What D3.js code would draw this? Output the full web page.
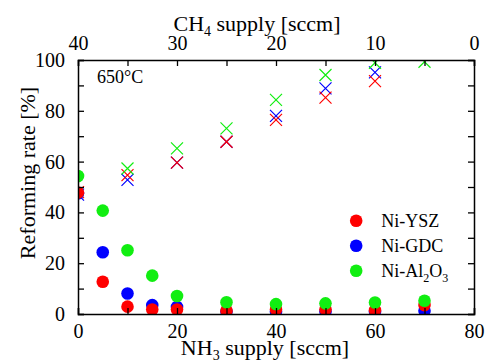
<!DOCTYPE html>
<html>
  <head>
    <meta charset="utf-8" />
    <title>Reforming rate vs NH3 / CH4 supply</title>
    <script src="https://d3js.org/d3.v7.min.js" charset="utf-8"></script>
    <style>
      html,
      body {
        margin: 0;
        padding: 0;
        background-color: white;
      }
      svg text {
        font-family: "Liberation Serif", "DejaVu Serif", serif !important;
        fill: black;
      }
    </style>
  </head>
  <body>
    <svg id="chart"></svg>
    <script>
      // SVG size
      const width = 486;
      const height = 360;

      // Margins
      const lmargin = 78;
      const rmargin = 12;
      const tmargin = 60;
      const bmargin = 46;

      const graphWidth = width - lmargin - rmargin;
      const graphHeight = height - tmargin - bmargin;

      // Data: NH3 decomposition (circles)
      const nh3Supply = [0, 5, 10, 15, 20, 30, 40, 50, 60, 70];
      const ysz = [47.8, 12.7, 2.9, 1.8, 1.8, 1.3, 1.8, 1.8, 1.5, 3.5];
      const gdc = [47.5, 24.3, 8.1, 3.5, 2.8, 1.0, 1.0, 1.0, 1.0, 1.3];
      const al2o3 = [54.3, 40.7, 25.1, 15.1, 7.1, 4.6, 3.9, 4.2, 4.5, 5.2];

      // Data: CH4 reforming (crosses), plotted at NH3 positions
      const crossX = [0, 10, 20, 30, 40, 50, 60, 70];
      const yszRef = [48.0, 54.7, 59.6, 67.8, 76.4, 85.2, 91.7, null];
      const gdcRef = [47.0, 52.8, 59.6, 67.8, 78.0, 88.8, 95.1, null];
      const al2o3Ref = [null, 57.3, 65.2, 73.1, 84.3, 94.1, 98.9, 99.3];

      const series = [
        { name: "Ni-GDC", color: "#0000ff", dots: gdc, crosses: gdcRef },
        { name: "Ni-YSZ", color: "#ff0000", dots: ysz, crosses: yszRef },
        { name: "Ni-Al2O3", color: "#11ee11", dots: al2o3, crosses: al2o3Ref },
      ];
      const legendOrder = ["Ni-YSZ", "Ni-GDC", "Ni-Al2O3"];

      const xTicks = [0, 20, 40, 60, 80];
      const topTicks = [40, 30, 20, 10, 0];
      const yTicks = [0, 20, 40, 60, 80, 100];

      const svg = d3
        .select("#chart")
        .attr("width", width)
        .attr("height", height);

      const plotArea = svg
        .append("g")
        .attr("transform", `translate(${lmargin},${tmargin})`);

      // Scales
      const xScale = d3.scaleLinear().domain([0, 80]).range([0, graphWidth]);
      const topScale = d3.scaleLinear().domain([40, 0]).range([0, graphWidth]);
      const yScale = d3.scaleLinear().domain([0, 100]).range([graphHeight, 0]);

      // Clip so that points at the edge are cut like the original
      svg
        .append("clipPath")
        .attr("id", "clip")
        .append("rect")
        .attr("width", graphWidth)
        .attr("height", graphHeight);

      const marks = plotArea.append("g").attr("clip-path", "url(#clip)");

      // Crosses
      const cs = 6;
      series.forEach((s) => {
        const pts = crossX
          .map((x, i) => ({ x: x, y: s.crosses[i] }))
          .filter((d) => d.y !== null);
        marks
          .append("g")
          .selectAll("path")
          .data(pts)
          .enter()
          .append("path")
          .attr("d", (d) => {
            const px = xScale(d.x);
            const py = yScale(d.y);
            return `M${px - cs},${py - cs}L${px + cs},${py + cs}M${px - cs},${py + cs}L${px + cs},${py - cs}`;
          })
          .attr("stroke", s.color)
          .attr("stroke-width", 1.2)
          .attr("fill", "none");
      });

      // Circles
      series.forEach((s) => {
        marks
          .append("g")
          .selectAll("circle")
          .data(nh3Supply.map((x, i) => ({ x: x, y: s.dots[i] })))
          .enter()
          .append("circle")
          .attr("cx", (d) => xScale(d.x))
          .attr("cy", (d) => yScale(d.y))
          .attr("r", 6.3)
          .attr("fill", s.color);
      });

      // Axes (ticks point inward)
      const tickLen = 6;
      plotArea
        .append("g")
        .attr("transform", `translate(0,${graphHeight})`)
        .call(
          d3
            .axisBottom(xScale)
            .tickValues(d3.range(0, 81, 10))
            .tickSize(-tickLen)
            .tickFormat((d) => (xTicks.includes(d) ? d : ""))
        )
        .call((g) => g.selectAll("text").attr("dy", "1.05em").attr("font-size", 20));

      plotArea
        .append("g")
        .call(
          d3
            .axisTop(topScale)
            .tickValues(d3.range(0, 41, 5))
            .tickSize(-tickLen)
            .tickFormat((d) => (topTicks.includes(d) ? d : ""))
        )
        .call((g) => g.selectAll("text").attr("y", -10).attr("font-size", 20));

      plotArea
        .append("g")
        .call(
          d3
            .axisLeft(yScale)
            .tickValues(d3.range(0, 101, 10))
            .tickSize(-tickLen)
            .tickFormat((d) => (yTicks.includes(d) ? d : ""))
        )
        .call((g) => g.selectAll("text").attr("x", -13).attr("font-size", 20));

      plotArea
        .append("g")
        .attr("transform", `translate(${graphWidth},0)`)
        .call(
          d3
            .axisRight(yScale)
            .tickValues(d3.range(0, 101, 10))
            .tickSize(-tickLen)
            .tickFormat("")
        );

      plotArea.selectAll(".domain").attr("stroke-width", 1.5);
      plotArea.selectAll(".tick line").attr("stroke-width", 1.3);

      // Axis titles
      const bottomTitle = svg
        .append("text")
        .attr("x", 265)
        .attr("y", 355)
        .attr("text-anchor", "middle")
        .attr("font-size", 22);
      bottomTitle.append("tspan").text("NH");
      bottomTitle.append("tspan").text("3").attr("font-size", 14).attr("dy", 5);
      bottomTitle.append("tspan").text(" supply [sccm]").attr("dy", -5);

      const topTitle = svg
        .append("text")
        .attr("x", 257)
        .attr("y", 31)
        .attr("text-anchor", "middle")
        .attr("font-size", 22);
      topTitle.append("tspan").text("CH");
      topTitle.append("tspan").text("4").attr("font-size", 14).attr("dy", 5);
      topTitle.append("tspan").text(" supply [sccm]").attr("dy", -5);

      svg
        .append("text")
        .attr("transform", `translate(35,${tmargin + graphHeight / 2 - 14}) rotate(-90)`)
        .attr("text-anchor", "middle")
        .attr("font-size", 22)
        .text("Reforming rate [%]");

      // Temperature label
      plotArea
        .append("text")
        .attr("x", 19)
        .attr("y", 23)
        .attr("font-size", 18)
        .text("650°C");

      // Legend
      const legend = plotArea
        .append("g")
        .attr("transform", `translate(${xScale(56.2)},${yScale(36.7)})`);
      legendOrder.forEach((name, i) => {
        const s = series.find((d) => d.name === name);
        const row = legend.append("g").attr("transform", `translate(0,${i * 25})`);
        row.append("circle").attr("r", 6.3).attr("fill", s.color);
        const t = row
          .append("text")
          .attr("x", 25)
          .attr("y", 6.5)
          .attr("font-size", 18);
        if (name === "Ni-Al2O3") {
          t.append("tspan").text("Ni-Al");
          t.append("tspan").text("2").attr("font-size", 12).attr("dy", 5);
          t.append("tspan").text("O").attr("dy", -5);
          t.append("tspan").text("3").attr("font-size", 12).attr("dy", 5);
        } else {
          t.text(name);
        }
      });
    </script>
  </body>
</html>
